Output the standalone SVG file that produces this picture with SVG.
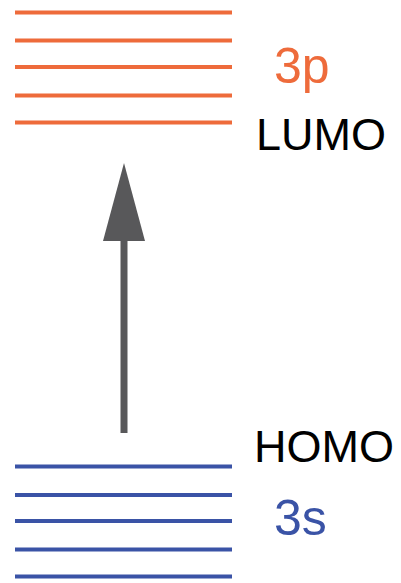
<svg xmlns="http://www.w3.org/2000/svg" width="401" height="583" viewBox="0 0 401 583">
<style>
.o{stroke:#EE6B3B;stroke-width:4;}
.b{stroke:#3A53A6;stroke-width:4;}
text{font-family:"Liberation Sans",Arial,sans-serif;}
.lbl{font-size:45px;fill:#000;}
</style>
<rect width="401" height="583" fill="#fff"/>
<g id="p-levels">
<line class="o" x1="15" y1="12.5" x2="232" y2="12.5"/>
<line class="o" x1="15" y1="40.5" x2="232" y2="40.5"/>
<line class="o" x1="15" y1="67" x2="232" y2="67"/>
<line class="o" x1="15" y1="95.5" x2="232" y2="95.5"/>
<line class="o" x1="15" y1="122.5" x2="232" y2="122.5"/>
<text x="274" y="83" font-size="50" fill="#EE6B3B">3p</text>
<text class="lbl" x="256" y="150" font-size="46">LUMO</text>
</g>
<g id="s-levels">
<line class="b" x1="15" y1="466.5" x2="232" y2="466.5"/>
<line class="b" x1="15" y1="495" x2="232" y2="495"/>
<line class="b" x1="15" y1="521" x2="232" y2="521"/>
<line class="b" x1="15" y1="549.5" x2="232" y2="549.5"/>
<line class="b" x1="15" y1="576.5" x2="232" y2="576.5"/>
<text x="274" y="535" font-size="50" fill="#3A53A6">3s</text>
<text class="lbl" x="254" y="462">HOMO</text>
</g>
<g id="connectors">
<line x1="124" y1="433" x2="124" y2="238" stroke="#58585A" stroke-width="7"/>
<polygon points="124,163 145,241 103,241" fill="#58585A"/>
</g>
</svg>
